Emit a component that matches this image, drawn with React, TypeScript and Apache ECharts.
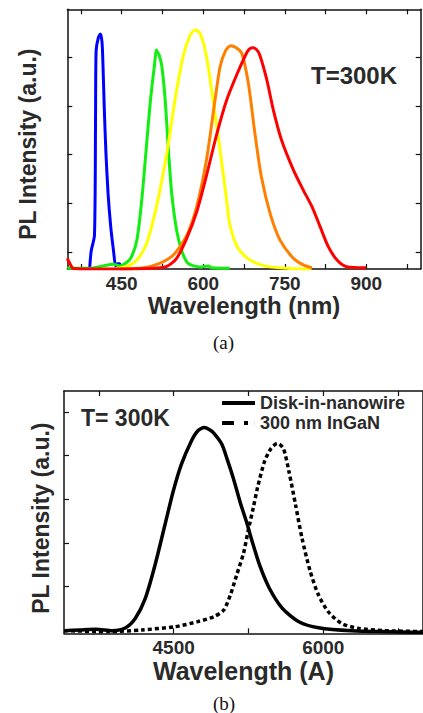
import React, { useEffect, useRef } from "react";
import * as echarts from "echarts";

// ---- Panel (a): PL spectra, wavelength (nm) vs normalized intensity ----
const blueSpectrum: [number, number][] = [
  [391, 0.0], [394, 0.07], [400, 0.13], [402, 0.6], [403, 0.84], [407, 0.89], [411, 0.905],
  [414, 0.87], [416, 0.76], [418, 0.62], [421, 0.45], [425, 0.29], [430, 0.16], [435, 0.07],
  [439, 0.01], [442, 0.02], [446, 0.02], [449, 0.005], [452, 0.0],
];
const greenSpectrum: [number, number][] = [
  [350, 0.003], [395, 0.003], [416, 0.012], [435, 0.018], [447, 0.012], [459, 0.025], [468, 0.047],
  [478, 0.112], [487, 0.266], [496, 0.484], [503, 0.651], [510, 0.779], [514, 0.843], [516, 0.835],
  [519, 0.824], [524, 0.779], [530, 0.651], [536, 0.458], [542, 0.291], [551, 0.15], [560, 0.073],
  [572, 0.022], [594, 0.008], [610, 0.012], [615, 0.005], [649, 0.003],
];
const yellowSpectrum: [number, number][] = [
  [435, 0.0], [459, 0.01], [478, 0.035], [496, 0.099], [514, 0.24], [533, 0.445], [548, 0.651],
  [563, 0.818], [576, 0.901], [585, 0.92], [594, 0.908], [606, 0.818], [618, 0.651], [631, 0.458],
  [643, 0.266], [649, 0.17], [664, 0.08], [686, 0.035], [717, 0.01], [760, 0.002], [799, 0.0],
];
const orangeSpectrum: [number, number][] = [
  [447, 0.0], [490, 0.005], [520, 0.022], [545, 0.054], [570, 0.13], [588, 0.24], [606, 0.42],
  [619, 0.61], [631, 0.779], [641, 0.84], [650, 0.86], [660, 0.853], [671, 0.83], [683, 0.715],
  [695, 0.523], [707, 0.355], [723, 0.214], [741, 0.112], [766, 0.041], [785, 0.015], [800, 0.005],
];
const redSpectrum: [number, number][] = [
  [350, 0.041], [355, 0.02], [361, 0.002], [400, 0.0], [500, 0.002], [533, 0.01], [551, 0.041],
  [570, 0.12], [588, 0.22], [606, 0.36], [625, 0.52], [643, 0.65], [662, 0.75], [677, 0.82],
  [684, 0.845], [691, 0.852], [698, 0.845], [704, 0.824], [717, 0.728], [729, 0.612], [744, 0.497],
  [766, 0.381], [784, 0.304], [800, 0.24], [815, 0.163], [830, 0.086], [846, 0.035], [864, 0.009],
  [900, 0.005],
];
const topXTicks = [375, 450, 525, 600, 675, 750, 825, 900, 975];
const topXLabels = [450, 600, 750, 900];
const topYTicks = [0.066, 0.253, 0.441, 0.628, 0.815];

// ---- Panel (b): wavelength (Å) ----
const diskSpectrum: [number, number][] = [
  [3400, 0.011], [3558, 0.014], [3722, 0.017], [3886, 0.011], [4018, 0.023], [4116, 0.062],
  [4215, 0.144], [4313, 0.282], [4412, 0.447], [4494, 0.584], [4575, 0.695], [4674, 0.791],
  [4740, 0.835], [4806, 0.849], [4860, 0.84], [4904, 0.825], [4983, 0.78], [5035, 0.72],
  [5098, 0.64], [5167, 0.54], [5230, 0.46], [5279, 0.39], [5361, 0.282], [5459, 0.186],
  [5590, 0.103], [5755, 0.048], [5952, 0.023], [6280, 0.011], [7000, 0.004],
];
const inganSpectrum: [number, number][] = [
  [3400, 0.011], [3853, 0.007], [4181, 0.014], [4510, 0.027], [4740, 0.048], [4904, 0.069],
  [5000, 0.095], [5068, 0.158], [5131, 0.24], [5200, 0.33], [5245, 0.42], [5299, 0.52],
  [5340, 0.6], [5410, 0.708], [5476, 0.763], [5540, 0.784], [5600, 0.763], [5656, 0.667],
  [5722, 0.53], [5787, 0.392], [5870, 0.254], [5952, 0.158], [6050, 0.089], [6181, 0.041],
  [6346, 0.021], [6609, 0.011], [7000, 0.007],
];
const botXTicks = [3750, 4500, 5250, 6000, 6750];
const botXLabels = [4500, 6000];
const botYTicks = [0.194, 0.373, 0.553, 0.733, 0.912];
const legendNames = ["Disk-in-nanowire", "300 nm InGaN"];

const FONT = "'Liberation Sans', Arial, sans-serif";
const TXT = "#2a2a2a";

export default function App() {
  const ref = useRef<HTMLDivElement>(null);
  useEffect(() => {
    if (!ref.current) return;
    const chart = echarts.init(ref.current, undefined, { renderer: "svg" });
    const axisLine = { show: true, onZero: false, lineStyle: { color: "#111", width: 1.5 } };
    const tick = (vals: number[]) => ({ show: true, inside: true, length: 5, customValues: vals, lineStyle: { color: "#111", width: 1.2 } });
    const labelStyle = (vals: number[]) => ({
      show: true, customValues: vals, formatter: (v: number) => String(v),
      color: TXT, fontFamily: FONT, fontWeight: "bold" as const, fontSize: 19, margin: 5,
    });
    const line = (name: string, data: [number, number][], color: string, idx: number, extra: any = {}) => ({
      type: "line", name, data, xAxisIndex: idx, yAxisIndex: idx, showSymbol: false, symbol: "none",
      smooth: 0.25, lineStyle: { color, width: 3, ...extra }, itemStyle: { color }, z: 3,
    });
    chart.setOption({
      animation: false,
      backgroundColor: "#fff",
      grid: [
        { left: 67.3, top: 9.3, width: 353.4, height: 259.7 },
        { left: 64, top: 391, width: 365.4, height: 242.3 },
      ],
      legend: {
        show: true, orient: "vertical", left: 222, top: 394, padding: 0, itemWidth: 33, itemHeight: 4, itemGap: 2,
        symbolKeepAspect: false,
        textStyle: { color: TXT, fontFamily: FONT, fontWeight: "bold", fontSize: 18, lineHeight: 18 },
        data: [
          { name: legendNames[0], icon: "rect" },
          { name: legendNames[1], icon: "path://M0,0h12v4h-12zM22,0h4v4h-4zM32.9,0h0.1v4h-0.1z" },
        ],
      },
      xAxis: [
        {
          type: "value", gridIndex: 0, position: "bottom", min: 350, max: 1000, axisLine,
          axisTick: tick(topXTicks), axisLabel: labelStyle(topXLabels), splitLine: { show: false },
          name: "Wavelength (nm)", nameLocation: "middle", nameGap: 21,
          nameTextStyle: { color: TXT, fontFamily: FONT, fontWeight: "bold", fontSize: 24 },
        },
        {
          type: "value", gridIndex: 0, position: "top", min: 350, max: 1000, axisLine,
          axisTick: tick(topXTicks), axisLabel: { show: false }, splitLine: { show: false },
        },
        {
          type: "value", gridIndex: 1, position: "bottom", min: 3400, max: 7000, axisLine,
          axisTick: tick(botXTicks), axisLabel: labelStyle(botXLabels), splitLine: { show: false },
          name: "Wavelength (A)", nameLocation: "middle", nameGap: 20,
          nameTextStyle: { color: TXT, fontFamily: FONT, fontWeight: "bold", fontSize: 25 },
        },
        {
          type: "value", gridIndex: 1, position: "top", min: 3400, max: 7000, axisLine,
          axisTick: tick(botXTicks), axisLabel: { show: false }, splitLine: { show: false },
        },
      ],
      yAxis: [
        {
          type: "value", gridIndex: 0, position: "left", min: 0, max: 1, axisLine,
          axisTick: tick(topYTicks), axisLabel: { show: false }, splitLine: { show: false },
          name: "PL Intensity (a.u.)", nameLocation: "middle", nameGap: 28,
          nameTextStyle: { color: TXT, fontFamily: FONT, fontWeight: "bold", fontSize: 23, padding: [0, 10, 0, 0] },
        },
        {
          type: "value", gridIndex: 0, position: "right", min: 0, max: 1, axisLine,
          axisTick: tick(topYTicks), axisLabel: { show: false }, splitLine: { show: false },
        },
        {
          type: "value", gridIndex: 1, position: "left", min: 0, max: 1, axisLine,
          axisTick: tick(botYTicks), axisLabel: { show: false }, splitLine: { show: false },
          name: "PL Intensity (a.u.)", nameLocation: "middle", nameGap: 12,
          nameTextStyle: { color: TXT, fontFamily: FONT, fontWeight: "bold", fontSize: 23, padding: [0, 12, 0, 0] },
        },
        {
          type: "value", gridIndex: 1, position: "right", min: 0, max: 1, axisLine,
          axisTick: { show: false }, axisLabel: { show: false }, splitLine: { show: false },
        },
      ],
      series: [
        line("blue", blueSpectrum, "#0000ff", 0),
        line("green", greenSpectrum, "#11ee11", 0),
        line("yellow", yellowSpectrum, "#ffff00", 0),
        line("orange", orangeSpectrum, "#ff8000", 0),
        line("red", redSpectrum, "#ff0000", 0),
        line(legendNames[0], diskSpectrum, "#000000", 2, { width: 3.5 }),
        line(legendNames[1], inganSpectrum, "#000000", 2, { width: 3.5, type: [4, 3] }),
      ],
      graphic: [
        { type: "text", left: 311, top: 63, style: { text: "T=300K", fill: TXT, font: `bold 24px ${FONT}` } },
        { type: "text", left: 81, top: 406, style: { text: "T= 300K", fill: TXT, font: `bold 23px ${FONT}` } },
        { type: "text", left: 213, top: 333, style: { text: "(a)", fill: "#111", font: `19px 'Liberation Serif', 'Times New Roman', serif` } },
        { type: "text", left: 213, top: 694, style: { text: "(b)", fill: "#111", font: `19px 'Liberation Serif', 'Times New Roman', serif` } },
      ],
    });
    return () => chart.dispose();
  }, []);
  return <div ref={ref} style={{ position: "absolute", left: 0, top: 0, width: 423, height: 713 }} />;
}
